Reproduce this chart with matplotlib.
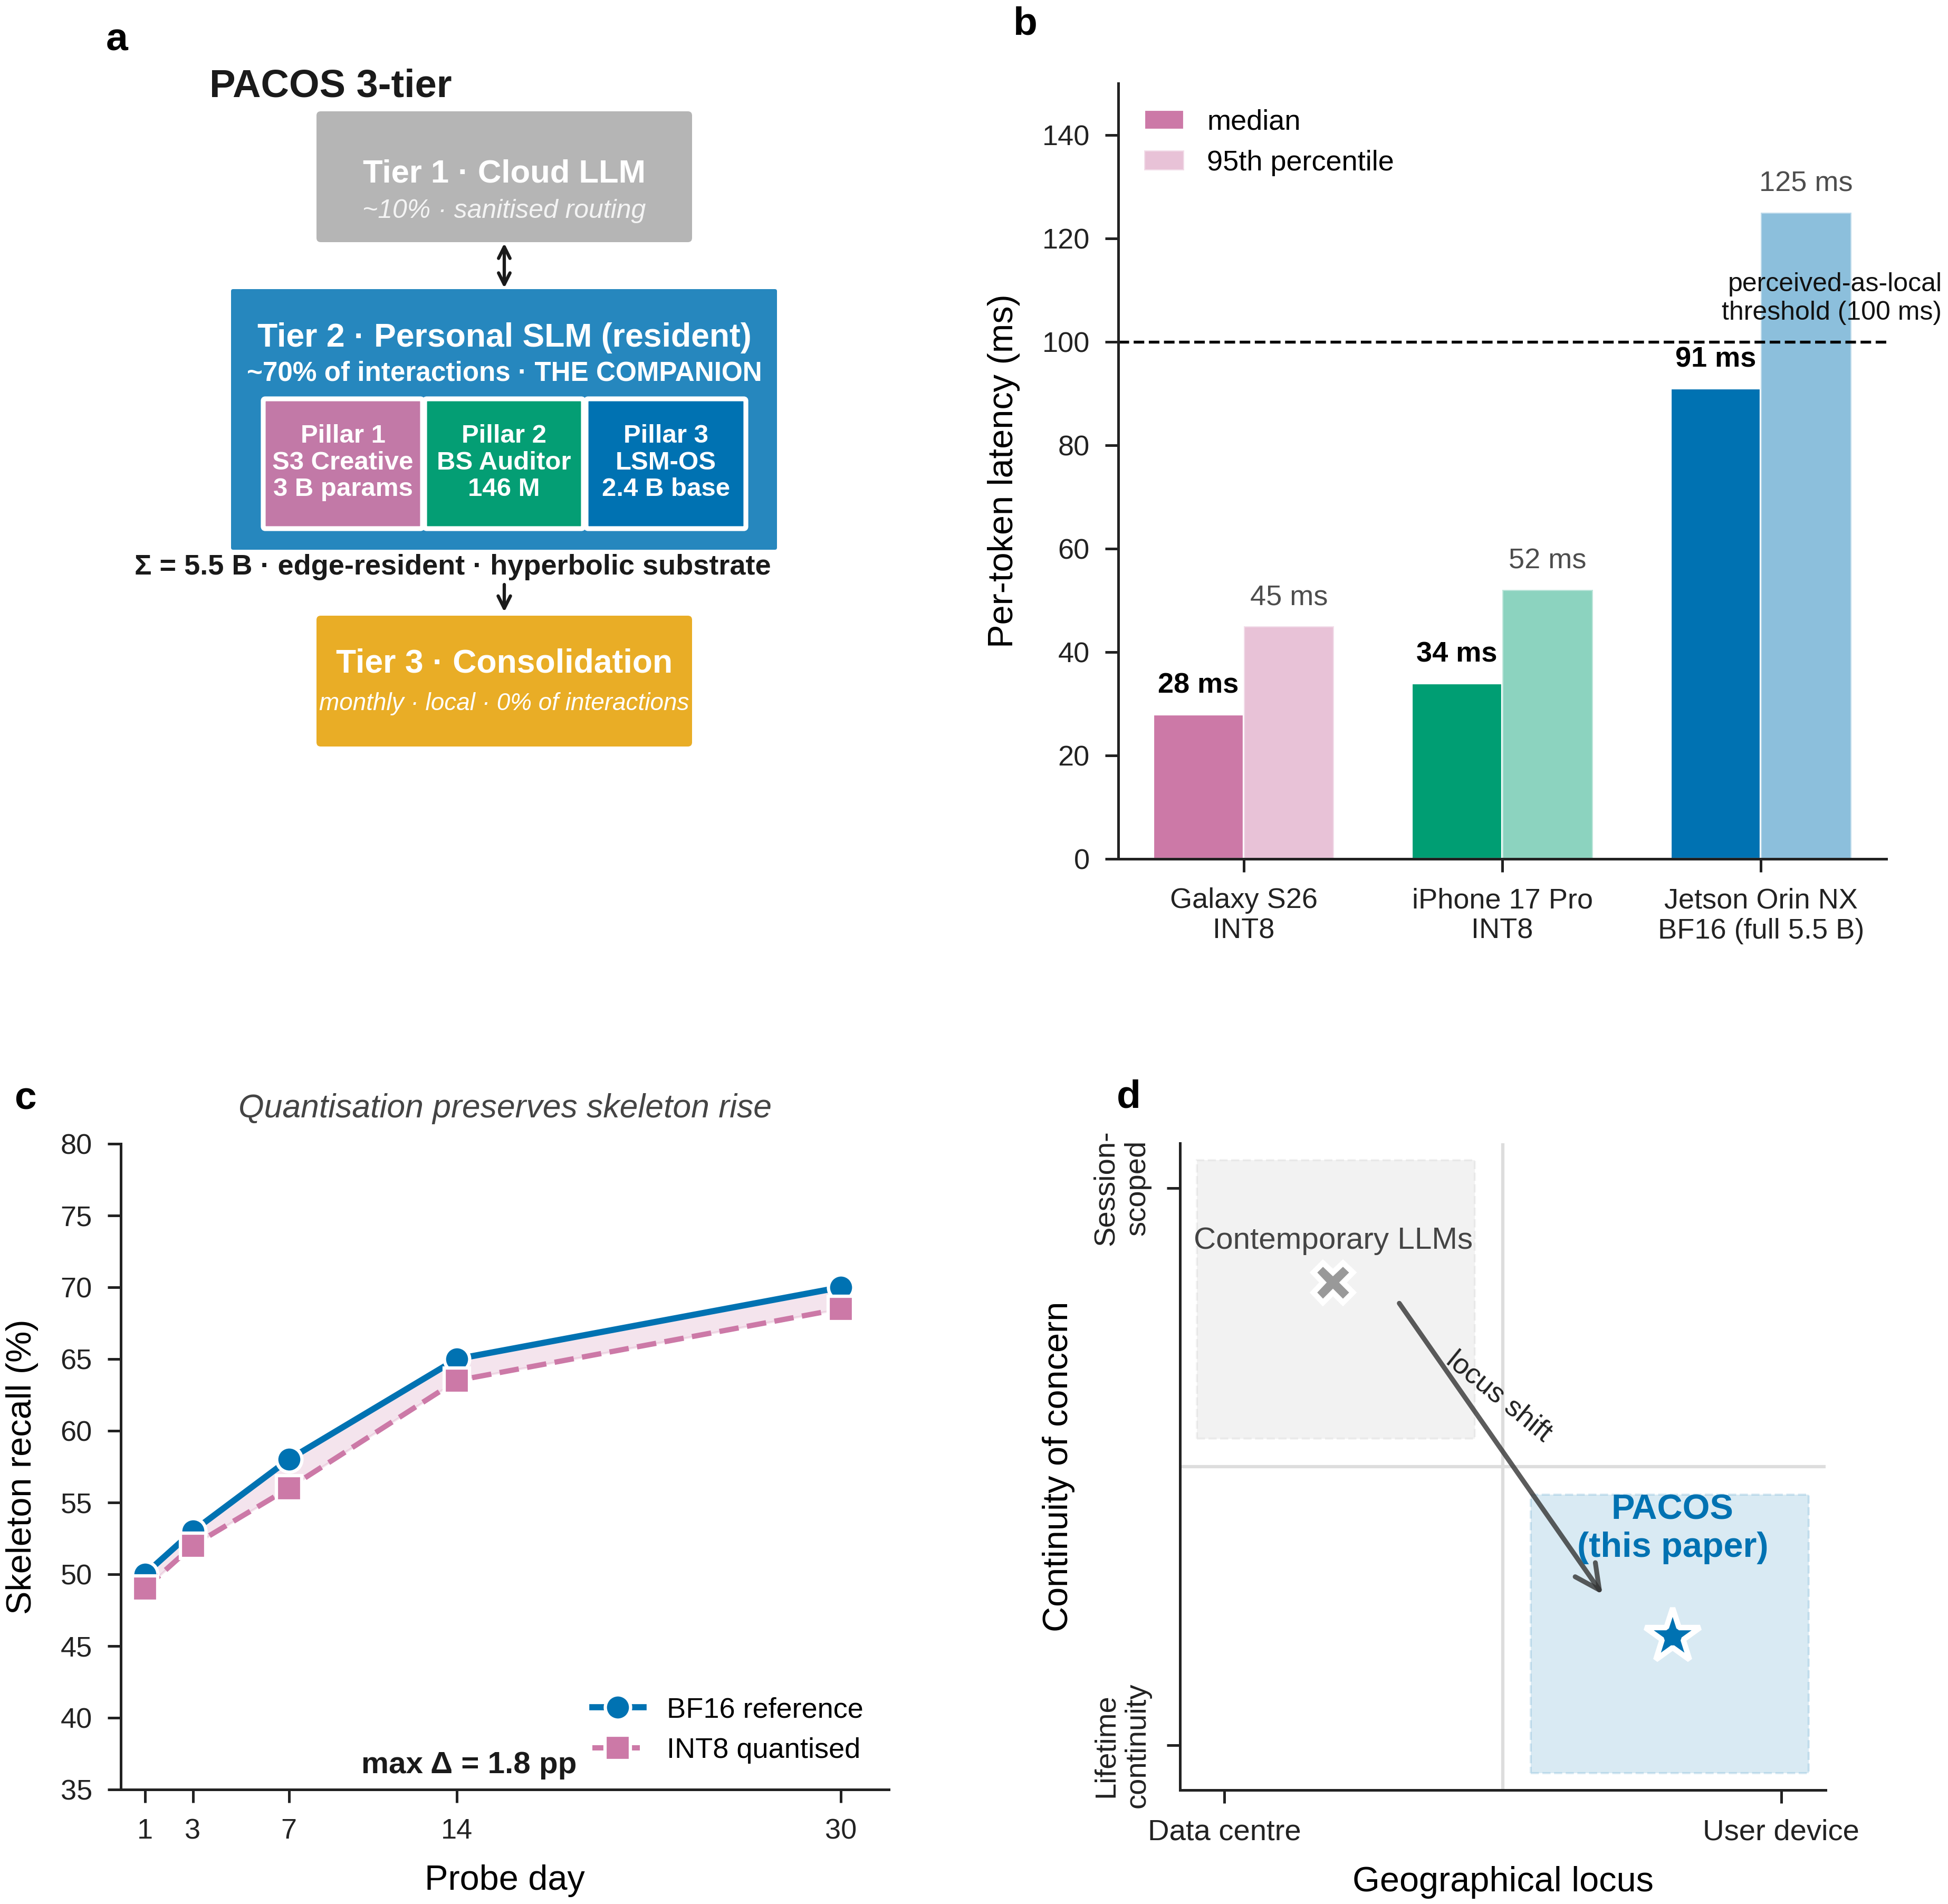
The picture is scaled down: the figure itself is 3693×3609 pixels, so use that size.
import matplotlib
matplotlib.use("Agg")
import matplotlib.pyplot as plt
from matplotlib.patches import FancyBboxPatch, Rectangle
import numpy as np

plt.rcParams['font.family'] = ['Liberation Sans', 'DejaVu Sans']
plt.rcParams['axes.edgecolor'] = '#222222'
plt.rcParams['axes.linewidth'] = 1.2
plt.rcParams['xtick.color'] = '#222222'
plt.rcParams['ytick.color'] = '#222222'
plt.rcParams['xtick.major.width'] = 1.2
plt.rcParams['ytick.major.width'] = 1.2
plt.rcParams['xtick.major.size'] = 6
plt.rcParams['ytick.major.size'] = 6
plt.rcParams['xtick.major.pad'] = 7
plt.rcParams['ytick.major.pad'] = 7

BLUE, GREEN, PINK, ORANGE = "#0072B2", "#009E73", "#CC79A7", "#E69F00"

# ── data ──────────────────────────────────────────────────────────────────────
# b: per-token latency
devices = ["Galaxy S26\nINT8", "iPhone 17 Pro\nINT8", "Jetson Orin NX\nBF16 (full 5.5 B)"]
median_ms = [28, 34, 91]
p95_ms = [45, 52, 125]
threshold_ms = 100

# c: skeleton recall vs probe day
probe_days = [1, 3, 7, 14, 30]
bf16_recall = [50.0, 53.0, 58.0, 65.0, 70.0]
int8_recall = [49.0, 52.0, 56.0, 63.5, 68.5]

# d: positioning map
systems = ["Contemporary LLMs", "PACOS\n(this paper)"]
locus_x = [0.195, 0.805]
continuity_y = [0.83, 0.195]

# a: architecture text
tier_titles = ["Tier 1 · Cloud LLM", "Tier 2 · Personal SLM (resident)", "Tier 3 · Consolidation"]
tier_subs = ["~10% · sanitised routing", "~70% of interactions · THE COMPANION",
             "monthly · local · 0% of interactions"]
pillars = ["Pillar 1\nS3 Creative\n3 B params", "Pillar 2\nBS Auditor\n146 M",
           "Pillar 3\nLSM-OS\n2.4 B base"]

W, H = 3693, 3609
fig = plt.figure(figsize=(W / 300, H / 300), dpi=300)
fig.patch.set_facecolor("white")

def px_axes(l, t, r, b):
    return fig.add_axes([l / W, 1 - b / H, (r - l) / W, (b - t) / H])

# ═════════════════════════ a: PACOS 3-tier diagram ═══════════════════════════
ax_a = fig.add_axes([0, 0.5, 0.5, 0.5])
ax_a.set_xlim(0, W / 2); ax_a.set_ylim(H / 2, 0); ax_a.axis("off")

def box(x0, y0, x1, y1, fc, ec="none", lw=0, r=8):
    ax_a.add_patch(FancyBboxPatch((x0, y0), x1 - x0, y1 - y0,
                                  boxstyle=f"round,pad=0,rounding_size={r}",
                                  facecolor=fc, edgecolor=ec, linewidth=lw))

cx = 956
ax_a.text(627, 164, "PACOS 3-tier", fontsize=17.8, fontweight="bold",
          color="#1a1a1a", ha="center", va="center")

box(600, 211, 1312, 459, "#b5b5b5")
ax_a.text(cx, 330, tier_titles[0], fontsize=14.8, fontweight="bold", color="white",
          ha="center", va="center")
ax_a.text(cx, 400, tier_subs[0], fontsize=12, style="italic", color="#f4f4f4",
          ha="center", va="center")

ax_a.annotate("", xy=(cx, 461), xytext=(cx, 546),
              arrowprops=dict(arrowstyle="<->", color="#1a1a1a", lw=1.5,
                              mutation_scale=13, shrinkA=0, shrinkB=0))

box(438, 548, 1473, 1042, "#2687BE", r=4)
ax_a.text(cx, 640, tier_titles[1], fontsize=15, fontweight="bold", color="white",
          ha="center", va="center")
ax_a.text(cx, 708, tier_subs[1], fontsize=12.3, fontweight="bold", color="white",
          ha="center", va="center")

pillar_x = [(499, 801), (805, 1106), (1111, 1414)]
pillar_fc = ["#C279A7", "#049E74", BLUE]
for (x0, x1), fc, txt in zip(pillar_x, pillar_fc, pillars):
    box(x0, 756, x1, 1002, fc, ec="white", lw=2.2, r=4)
    ax_a.text((x0 + x1) / 2, 877, txt, fontsize=11.8, fontweight="bold",
              color="white", ha="center", va="center", linespacing=1.15)

ax_a.text(858, 1075, "Σ = 5.5 B · edge-resident · hyperbolic substrate",
          fontsize=13, fontweight="bold", color="#1a1a1a", ha="center", va="center")
ax_a.annotate("", xy=(cx, 1160), xytext=(cx, 1108),
              arrowprops=dict(arrowstyle="->", color="#1a1a1a", lw=1.5,
                              mutation_scale=14, shrinkA=0, shrinkB=0))

box(600, 1167, 1312, 1415, "#E9AD26")
ax_a.text(cx, 1258, tier_titles[2], fontsize=15, fontweight="bold", color="white",
          ha="center", va="center")
ax_a.text(cx, 1334, tier_subs[2], fontsize=11, style="italic", color="white",
          ha="center", va="center")

# ═════════════════════════ b: latency bars ═══════════════════════════════════
ax_b = px_axes(2120, 158, 3576, 1628)
x = np.arange(len(devices))
bw = 0.35
dev_colors = [PINK, GREEN, BLUE]
for i in range(len(devices)):
    ax_b.bar(x[i] - bw / 2, median_ms[i], bw, color=dev_colors[i], edgecolor="white",
             linewidth=1, label="median" if i == 0 else None)
    ax_b.bar(x[i] + bw / 2, p95_ms[i], bw, color=dev_colors[i], alpha=0.45,
             edgecolor="white", linewidth=1,
             label="95th percentile" if i == 0 else None)
    ax_b.text(x[i] - bw / 2, median_ms[i] + 3, f"{median_ms[i]:.0f} ms", fontsize=13,
              fontweight="bold", color="black", ha="center", va="bottom")
    ax_b.text(x[i] + bw / 2, p95_ms[i] + 3, f"{p95_ms[i]:.0f} ms", fontsize=13,
              color="#4d4d4d", ha="center", va="bottom")

ax_b.axhline(threshold_ms, color="black", ls="--", lw=1.3)
ax_b.text(2.70, threshold_ms + 3.3, "perceived-as-local\nthreshold (100 ms)", fontsize=12,
          ha="right", va="bottom", multialignment="right", color="#111111")
ax_b.set_ylim(0, 150)
ax_b.set_yticks(range(0, 141, 20))
ax_b.set_xticks(x)
ax_b.set_xticklabels(devices, fontsize=13)
ax_b.tick_params(axis="y", labelsize=13)
ax_b.set_ylabel("Per-token latency (ms)", fontsize=16, labelpad=10)
ax_b.spines[["top", "right"]].set_visible(False)
ax_b.legend(loc="upper left", frameon=False, fontsize=13, handlelength=1.4)

# ═════════════════════════ c: quantisation lines ═════════════════════════════
ax_c = px_axes(229, 2168, 1685, 3392)
ax_c.fill_between(probe_days, int8_recall, bf16_recall, color=PINK, alpha=0.2)
ax_c.plot(probe_days, bf16_recall, "-o", color=BLUE, lw=2.8, ms=11.5, mec="white",
          mew=1.5, label="BF16 reference", zorder=3)
ax_c.plot(probe_days, int8_recall, "--s", color=PINK, lw=2.4, ms=11.5, mec="white",
          mew=1.5, label="INT8 quantised", zorder=4)
ax_c.set_xlim(0, 32)
ax_c.set_ylim(35, 80)
ax_c.set_xticks(probe_days)
ax_c.set_yticks(range(35, 81, 5))
ax_c.tick_params(labelsize=13)
ax_c.set_xlabel("Probe day", fontsize=16, labelpad=9)
ax_c.set_ylabel("Skeleton recall (%)", fontsize=16, labelpad=10)
ax_c.set_title("Quantisation preserves skeleton rise", fontsize=15, style="italic",
               color="#444444", pad=12)
ax_c.spines[["top", "right"]].set_visible(False)
ax_c.text(14.5, 36.7, "max Δ = 1.8 pp", fontsize=14, fontweight="bold",
          color="#1a1a1a", ha="center", va="center")
ax_c.legend(loc="lower right", frameon=False, fontsize=13, handlelength=1.8)

# ═════════════════════════ d: positioning map ════════════════════════════════
ax_d = px_axes(2237, 2167, 3461, 3393)
ax_d.set_xlim(-0.08, 1.08)
ax_d.set_ylim(-0.08, 1.08)
ax_d.axvline(0.5, color="#dddddd", lw=1.5, zorder=0)
ax_d.axhline(0.5, color="#dddddd", lw=1.5, zorder=0)
ax_d.add_patch(Rectangle((-0.05, 0.55), 0.5, 0.5, facecolor="#808080",
                         edgecolor="#808080", alpha=0.1, ls="--", lw=1.0, zorder=1))
ax_d.add_patch(Rectangle((0.55, -0.05), 0.5, 0.5, facecolor=BLUE,
                         edgecolor=BLUE, alpha=0.15, ls="--", lw=1.0, zorder=1))

ax_d.plot(locus_x[0], continuity_y[0], marker="X", ms=18, color="#999999",
          mec="white", mew=2.5, zorder=4)
ax_d.plot(locus_x[1], continuity_y[1], marker="*", ms=26, color=BLUE,
          mec="white", mew=2.5, zorder=4)
ax_d.text(locus_x[0], 0.905, systems[0], fontsize=14, color="#444444",
          ha="center", va="center", zorder=5)
ax_d.text(locus_x[1], 0.388, systems[1], fontsize=16, fontweight="bold", color=BLUE,
          ha="center", va="center", zorder=5)

ax_d.annotate("", xy=(0.679, 0.271), xytext=(0.314, 0.793),
              arrowprops=dict(arrowstyle="->", color="#333333", alpha=0.8, lw=2.2,
                              mutation_scale=28, shrinkA=0, shrinkB=0,
                              capstyle="round", joinstyle="round"), zorder=3)
ax_d.text(0.493, 0.625, "locus shift", fontsize=13, color="#222222", rotation=-39,
          ha="center", va="center", rotation_mode="anchor", zorder=5)

ax_d.set_xticks([0, 1])
ax_d.set_xticklabels(["Data centre", "User device"], fontsize=13.5)
ax_d.set_yticks([0, 1])
ax_d.set_yticklabels(["Lifetime\ncontinuity", "Session-\nscoped"], fontsize=13.5,
                     rotation=90, va="center", multialignment="center")
ax_d.set_xlabel("Geographical locus", fontsize=16, labelpad=9)
ax_d.set_ylabel("Continuity of concern", fontsize=16, labelpad=8)
ax_d.spines[["top", "right"]].set_visible(False)

# ── panel letters ────────────────────────────────────────────────────────────
for letter, (px, py) in zip("abcd", [(222, 76), (1943, 46), (48, 2083), (2140, 2080)]):
    fig.text(px / W, 1 - py / H, letter, fontsize=18, fontweight="bold",
             ha="center", va="center")

fig.savefig("out.png", dpi=300, facecolor="white")
